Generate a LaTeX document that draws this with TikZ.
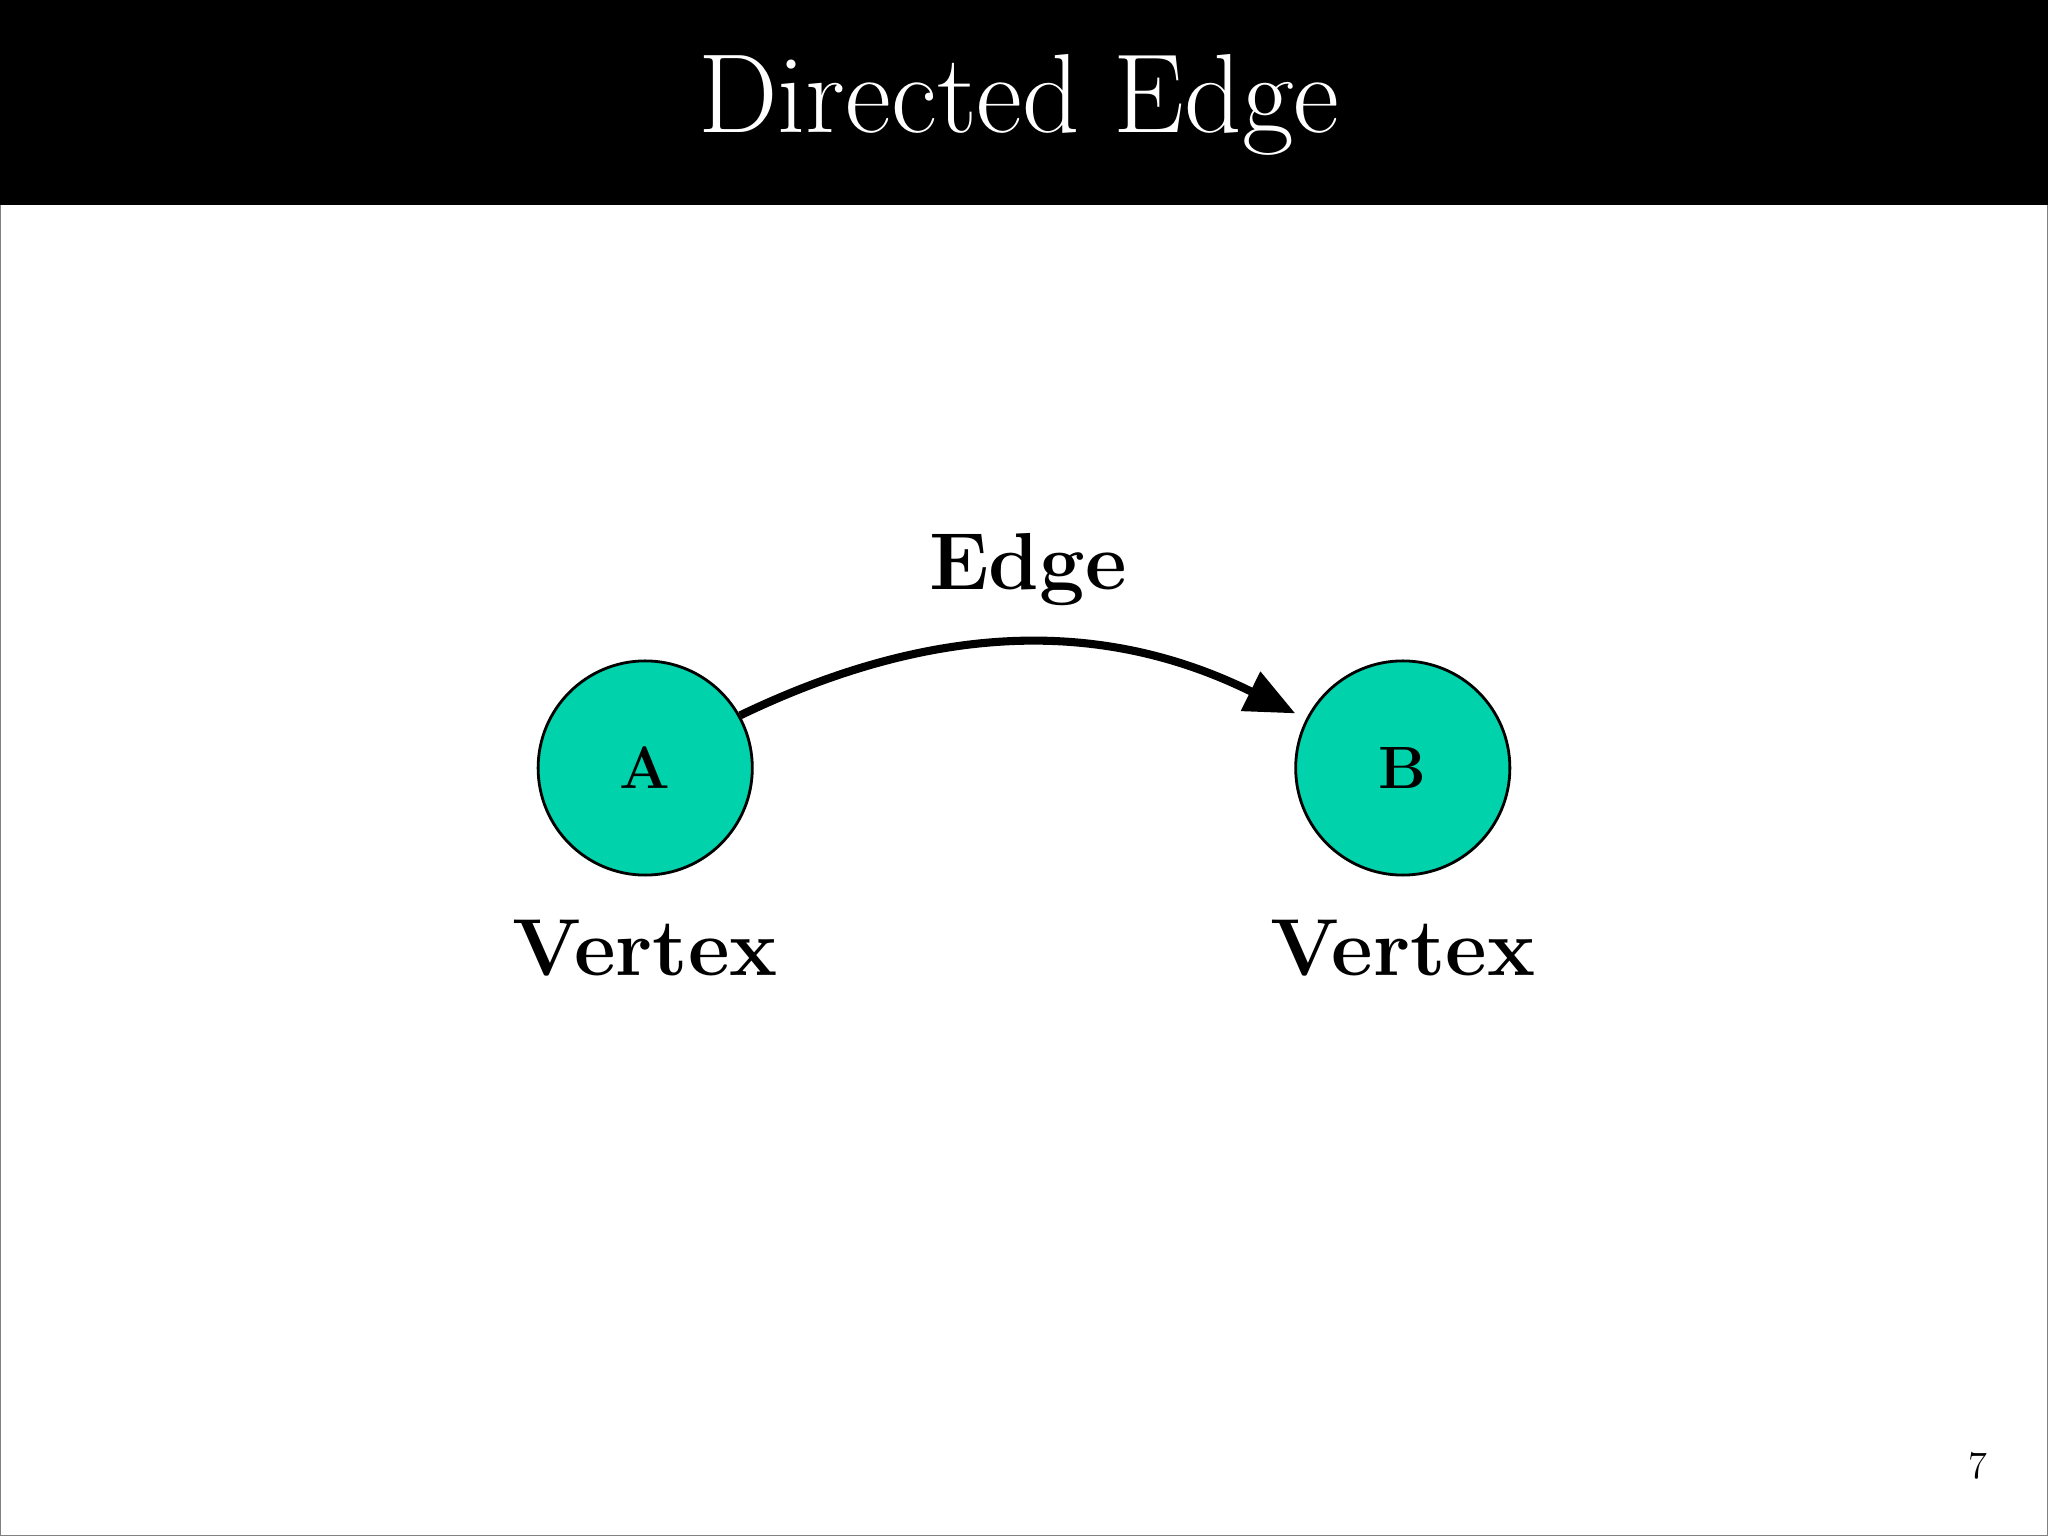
\documentclass[tikz,border=0pt]{standalone}
\usetikzlibrary{arrows.meta}
\definecolor{vert}{HTML}{00D2AB}
\begin{document}
\begin{tikzpicture}[x=0.013061cm,y=-0.013061cm,
  vertex/.style={circle,draw=black,line width=0.8pt,fill=vert,minimum size={164*0.013061cm},inner sep=0pt,font=\fontsize{17}{20}\selectfont\bfseries},
  lbl/.style={font=\fontsize{23}{28}\selectfont\bfseries}]
\useasboundingbox (0,0) rectangle (1568,1176);
\draw[gray,line width=0.6pt] (0,0) rectangle (1568,1176);
\fill[black] (0,0) rectangle (1568,157);
\node[text=white,font=\fontsize{32}{40}\selectfont] (title) at (780,80) {Directed Edge};
\node[vertex] (A) at (494,588) {A};
\node[vertex] (B) at (1074,588) {B};
\node[lbl] (va) at (494,726) {Vertex};
\node[lbl] (vb) at (1074,726) {Vertex};
\node[lbl] (el) at (787,436) {Edge};
\draw[line width=2.3pt,shorten >=0.12cm,-{Triangle[length=0.5cm,width=0.42cm]}] (A.29) to[bend left=26] (B.153);
\node[font=\fontsize{11}{13}\selectfont] (pg) at (1514,1122) {7};
\end{tikzpicture}
\end{document}
